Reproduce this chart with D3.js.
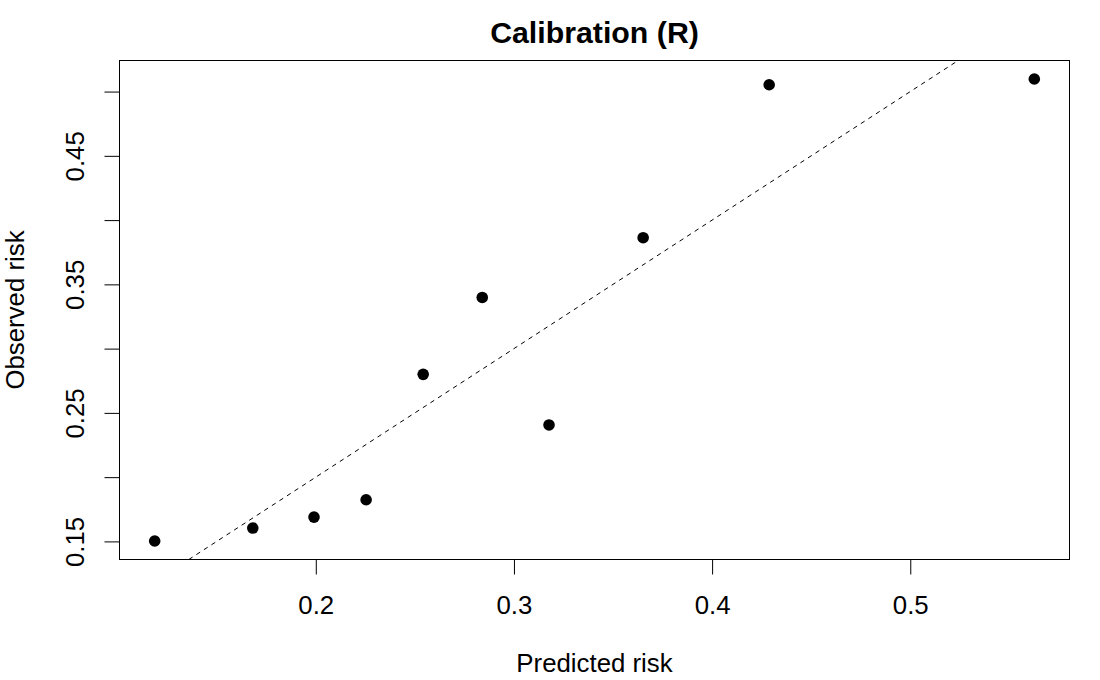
<!DOCTYPE html>
<html>
<head>
<meta charset="utf-8">
<script src="https://cdn.jsdelivr.net/npm/d3@7"></script>
<style>
  html, body { margin: 0; padding: 0; background: #fff; }
  svg { display: block; font-family: "Liberation Sans", Arial, sans-serif; }
</style>
</head>
<body>
<svg id="chart" width="1100" height="680"></svg>
<script>
// ---- data ----
const predicted = [0.1187, 0.1682, 0.1991, 0.2254, 0.2542, 0.2840, 0.3177, 0.3652, 0.4288, 0.5626];
const observed  = [0.1503, 0.1604, 0.1689, 0.1824, 0.2800, 0.3398, 0.2406, 0.3863, 0.5053, 0.5098];
const xTicks = [0.2, 0.3, 0.4, 0.5];
const xTickLabels = ["0.2", "0.3", "0.4", "0.5"];
const yTicks = [0.15, 0.20, 0.25, 0.30, 0.35, 0.40, 0.45, 0.50];
const yTickLabels = ["0.15", "", "0.25", "", "0.35", "", "0.45", ""];
const title = "Calibration (R)";
const xTitle = "Predicted risk";
const yTitle = "Observed risk";

// ---- layout ----
const W = 1100, H = 680;
const plot = { left: 119.5, right: 1069.5, top: 60.5, bottom: 559.5 };

// R-style 4% axis extension
function rlim(vals) {
  const [a, b] = d3.extent(vals);
  const pad = (b - a) * 0.04;
  return [a - pad, b + pad];
}
const xDom = rlim(predicted), yDom = rlim(observed);
const x = d3.scaleLinear().domain(xDom).range([plot.left, plot.right]);
const y = d3.scaleLinear().domain(yDom).range([plot.bottom, plot.top]);

const svg = d3.select("#chart");
const FS = 25.8;

svg.append("defs").append("clipPath").attr("id", "clip")
  .append("rect")
  .attr("x", plot.left).attr("y", plot.top)
  .attr("width", plot.right - plot.left).attr("height", plot.bottom - plot.top);

// reference line y = x
const lo = Math.max(xDom[0], yDom[0]), hi = Math.min(xDom[1], yDom[1]);
svg.append("line")
  .attr("clip-path", "url(#clip)")
  .attr("x1", x(lo)).attr("y1", y(lo))
  .attr("x2", x(hi)).attr("y2", y(hi))
  .attr("stroke", "#000").attr("stroke-width", 1)
  .attr("stroke-dasharray", "4.5,4.5");

// points
svg.append("g").selectAll("circle")
  .data(predicted.map((p, i) => [p, observed[i]]))
  .join("circle")
  .attr("cx", d => x(d[0])).attr("cy", d => y(d[1]))
  .attr("r", 5.8).attr("fill", "#000");

// box
svg.append("rect")
  .attr("x", plot.left).attr("y", plot.top)
  .attr("width", plot.right - plot.left).attr("height", plot.bottom - plot.top)
  .attr("fill", "none").attr("stroke", "#000").attr("stroke-width", 1);

// x axis
const xAxis = d3.axisBottom(x).tickValues(xTicks)
  .tickFormat((d, i) => xTickLabels[i]).tickSize(15).tickPadding(0);
const gx = svg.append("g").attr("transform", `translate(0,${plot.bottom})`).call(xAxis);
gx.select(".domain").remove();
gx.selectAll(".tick line").attr("stroke", "#000").attr("stroke-width", 1);
gx.selectAll(".tick text")
  .attr("y", 54).attr("dy", 0)
  .attr("font-size", FS).attr("font-family", "Liberation Sans, Arial, sans-serif")
  .attr("fill", "#000");

// y axis
const yAxis = d3.axisLeft(y).tickValues(yTicks)
  .tickFormat((d, i) => yTickLabels[i]).tickSize(15).tickPadding(0);
const gy = svg.append("g").attr("transform", `translate(${plot.left},0)`).call(yAxis);
gy.select(".domain").remove();
gy.selectAll(".tick line").attr("stroke", "#000").attr("stroke-width", 1);
gy.selectAll(".tick text")
  .attr("transform", "rotate(-90)")
  .attr("x", 0).attr("y", -35.5).attr("dy", 0)
  .attr("text-anchor", "middle")
  .attr("font-size", FS).attr("font-family", "Liberation Sans, Arial, sans-serif")
  .attr("fill", "#000");

// titles
const cx = (plot.left + plot.right) / 2, cy = (plot.top + plot.bottom) / 2;
svg.append("text")
  .attr("x", cx).attr("y", 43)
  .attr("text-anchor", "middle")
  .attr("font-size", 30.3).attr("font-weight", "bold")
  .text(title);
svg.append("text")
  .attr("x", cx).attr("y", 672)
  .attr("text-anchor", "middle")
  .attr("font-size", FS)
  .text(xTitle);
svg.append("text")
  .attr("transform", `translate(24,${cy}) rotate(-90)`)
  .attr("text-anchor", "middle")
  .attr("font-size", FS)
  .text(yTitle);
</script>
</body>
</html>
